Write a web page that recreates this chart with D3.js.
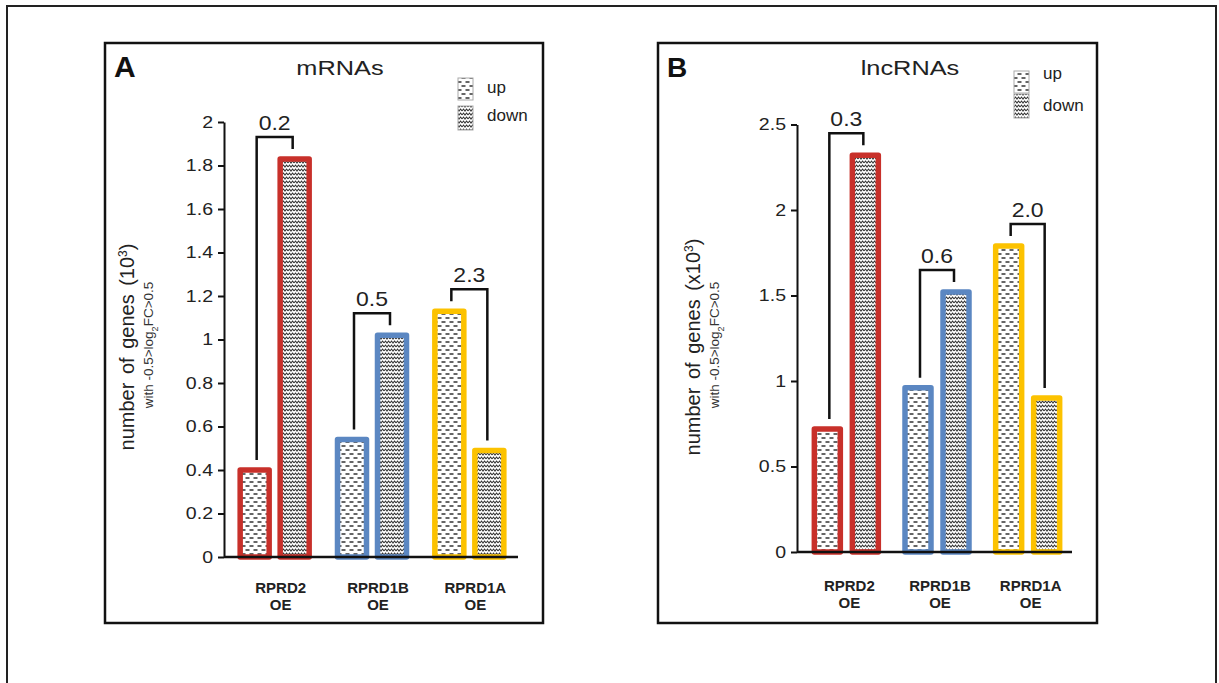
<!DOCTYPE html>
<html>
<head>
<meta charset="utf-8">
<script src="https://cdn.jsdelivr.net/npm/d3@7"></script>
<style>
  html, body { margin: 0; padding: 0; background: #fff; }
  svg { display: block; font-family: "Liberation Sans", Arial, sans-serif; }
</style>
</head>
<body>
<svg id="fig" width="1219" height="683"></svg>
<script>
// ---- data ----
const groups = ["RPRD2", "RPRD1B", "RPRD1A"];
const groupColors = ["#c8302a", "#5b87c2", "#fcc200"];
const directions = ["up", "down"];

const mrnaUp = [0.40, 0.54, 1.13];
const mrnaDown = [1.83, 1.02, 0.49];
const mrnaRatioLabels = ["0.2", "0.5", "2.3"];
const mrnaTicks = [0, 0.2, 0.4, 0.6, 0.8, 1, 1.2, 1.4, 1.6, 1.8, 2];

const lncUp = [0.72, 0.96, 1.79];
const lncDown = [2.32, 1.52, 0.90];
const lncRatioLabels = ["0.3", "0.6", "2.0"];
const lncTicks = [0, 0.5, 1, 1.5, 2, 2.5];

const svg = d3.select("#fig");

// ---- fill patterns ----
const defs = svg.append("defs");
const pUp = defs.append("pattern").attr("id", "pat-up")
  .attr("patternUnits", "userSpaceOnUse").attr("width", 8).attr("height", 8);
pUp.append("rect").attr("width", 8).attr("height", 8).attr("fill", "#fff");
pUp.append("path").attr("d", "M1.5,2 H5.5 M5.5,6 H9.5 M-2.5,6 H1.5")
  .attr("stroke", "#333").attr("stroke-width", 1.3).attr("fill", "none");

const pDown = defs.append("pattern").attr("id", "pat-down")
  .attr("patternUnits", "userSpaceOnUse").attr("width", 6).attr("height", 4);
pDown.append("rect").attr("width", 6).attr("height", 4).attr("fill", "#fff");
pDown.append("path").attr("d", "M0,3 L1.5,1 L3,3 L4.5,1 L6,3")
  .attr("stroke", "#333").attr("stroke-width", 1.05).attr("fill", "none");

// ---- outer frame ----
svg.append("rect").attr("x", 7).attr("y", 6).attr("width", 1209).attr("height", 720)
  .attr("fill", "none").attr("stroke", "#222").attr("stroke-width", 2);

function panel(cfg) {
  const g = svg.append("g");

  // panel border
  g.append("rect").attr("x", cfg.box[0]).attr("y", cfg.box[1])
    .attr("width", cfg.box[2]).attr("height", cfg.box[3])
    .attr("fill", "#fff").attr("stroke", "#111").attr("stroke-width", 2.5);

  const y = d3.scaleLinear().domain([0, cfg.ticks[cfg.ticks.length - 1]]).range(cfg.yRange);
  const x = d3.scaleBand().domain(groups).range(cfg.xRange);
  const sub = d3.scaleBand().domain(directions)
    .range([-cfg.half, cfg.half]).paddingInner(cfg.pad).paddingOuter(cfg.pad / 2);

  const rows = [];
  groups.forEach((grp, i) => {
    rows.push({ grp, i, dir: "up", v: cfg.up[i] });
    rows.push({ grp, i, dir: "down", v: cfg.down[i] });
  });

  // bars
  g.selectAll("rect.bar").data(rows).join("rect")
    .attr("class", "bar")
    .attr("x", d => x(d.grp) + x.bandwidth() / 2 + sub(d.dir))
    .attr("width", sub.bandwidth())
    .attr("y", d => y(d.v))
    .attr("height", d => y(0) - y(d.v))
    .attr("fill", d => d.dir === "up" ? "url(#pat-up)" : "url(#pat-down)")
    .attr("stroke", d => groupColors[d.i])
    .attr("stroke-width", 5.5)
    .attr("stroke-linejoin", "round");

  // y axis
  const ax = g.append("g").attr("transform", `translate(${cfg.axisX},0)`)
    .call(d3.axisLeft(y).tickValues(cfg.ticks).tickSize(6).tickSizeOuter(0).tickFormat(d => String(d)));
  ax.select(".domain").attr("stroke", "#111").attr("stroke-width", 2);
  ax.selectAll(".tick line").attr("stroke", "#111").attr("stroke-width", 2);
  ax.selectAll(".tick text")
    .attr("font-size", 17).attr("fill", "#222")
    .attr("font-family", "Liberation Sans, Arial, sans-serif")
    .attr("x", -11 / 1.15).attr("transform", "scale(1.15,1)");

  // baseline
  g.append("line").attr("x1", cfg.axisX).attr("x2", cfg.baseEnd)
    .attr("y1", y(0)).attr("y2", y(0))
    .attr("stroke", "#111").attr("stroke-width", 2.5);

  // category labels
  const cat = g.selectAll("text.cat").data(groups).join("text")
    .attr("class", "cat")
    .attr("text-anchor", "middle")
    .attr("font-weight", "bold").attr("font-size", 15).attr("fill", "#222");
  cat.append("tspan")
    .attr("x", d => x(d) + x.bandwidth() / 2 + cfg.catShift)
    .attr("y", cfg.catY).text(d => d);
  cat.append("tspan")
    .attr("x", d => x(d) + x.bandwidth() / 2 + cfg.catShift)
    .attr("y", cfg.catY + 17).text("OE");

  // ratio brackets
  groups.forEach((grp, i) => {
    const c = x(grp) + x.bandwidth() / 2;
    const xa = c + sub("up") + sub.bandwidth() / 2 + 2;
    const xb = c + sub("down") + sub.bandwidth() / 2 - 2;
    const top = y(Math.max(cfg.up[i], cfg.down[i])) - 22;
    g.append("path")
      .attr("d", `M${xa},${y(cfg.up[i]) - 10} V${top} H${xb} V${y(cfg.down[i]) - 10}`)
      .attr("fill", "none").attr("stroke", "#111").attr("stroke-width", 2.5);
    g.append("text")
      .attr("transform", `translate(${(xa + xb) / 2},${top - 7}) scale(1.15,1)`)
      .attr("text-anchor", "middle").attr("font-size", 20).attr("fill", "#222")
      .text(cfg.ratios[i]);
  });

  // panel letter and title
  g.append("text").attr("x", cfg.letterX).attr("y", 77)
    .attr("font-weight", "bold").attr("font-size", cfg.letterSize).attr("fill", "#111")
    .text(cfg.letter);
  g.append("text")
    .attr("transform", `translate(${cfg.titleX},75) scale(1.3,1)`)
    .attr("text-anchor", "middle").attr("font-size", 19.5).attr("fill", "#222")
    .text(cfg.title);

  // legend
  directions.forEach((dir, k) => {
    const sy = cfg.legendY[k];
    g.append("rect").attr("x", cfg.legendX).attr("y", sy)
      .attr("width", 15).attr("height", dir === "up" ? 22 : 24)
      .attr("fill", dir === "up" ? "url(#pat-up)" : "url(#pat-down)")
      .attr("stroke", "#aaa").attr("stroke-width", 1);
    g.append("text").attr("x", cfg.legendX + 29).attr("y", cfg.legendTextY[k])
      .attr("font-size", 17).attr("fill", "#222").text(dir);
  });

  // y axis title
  const yt = g.append("text")
    .attr("transform", `translate(${cfg.yTitleX},347) rotate(-90)`)
    .attr("text-anchor", "middle").attr("font-size", 20).attr("fill", "#222")
    .attr("word-spacing", 3);
  yt.append("tspan").text(cfg.yTitle);
  yt.append("tspan").attr("baseline-shift", "super").attr("font-size", 12).text("3");
  yt.append("tspan").text(")");

  const ys = g.append("text")
    .attr("transform", `translate(${cfg.yTitleX + 19},345) rotate(-90)`)
    .attr("text-anchor", "middle").attr("font-size", 13.5).attr("fill", "#333");
  ys.append("tspan").text("with -0.5>log");
  ys.append("tspan").attr("baseline-shift", "sub").attr("font-size", 9).text("2");
  ys.append("tspan").text("FC>0.5");
}

panel({
  box: [105, 43, 438, 580],
  letter: "A", letterX: 114, letterSize: 30,
  title: "mRNAs", titleX: 340,
  up: mrnaUp, down: mrnaDown, ratios: mrnaRatioLabels, ticks: mrnaTicks,
  yRange: [557, 122], xRange: [226, 518], axisX: 224, baseEnd: 518,
  half: 40, pad: 0.275,
  catY: 593, catShift: 6,
  legendX: 458, legendY: [78, 106], legendTextY: [93, 121],
  yTitleX: 134, yTitle: "number of genes (10"
});

panel({
  box: [658, 43, 439, 580],
  letter: "B", letterX: 667, letterSize: 28,
  title: "lncRNAs", titleX: 910,
  up: lncUp, down: lncDown, ratios: lncRatioLabels, ticks: lncTicks,
  yRange: [552, 124.5], xRange: [801, 1073], axisX: 797, baseEnd: 1072,
  half: 38, pad: 0.316,
  catY: 591, catShift: 3,
  legendX: 1014, legendY: [71, 94], legendTextY: [79, 111],
  yTitleX: 700, yTitle: "number of genes (x10"
});
</script>
</body>
</html>
